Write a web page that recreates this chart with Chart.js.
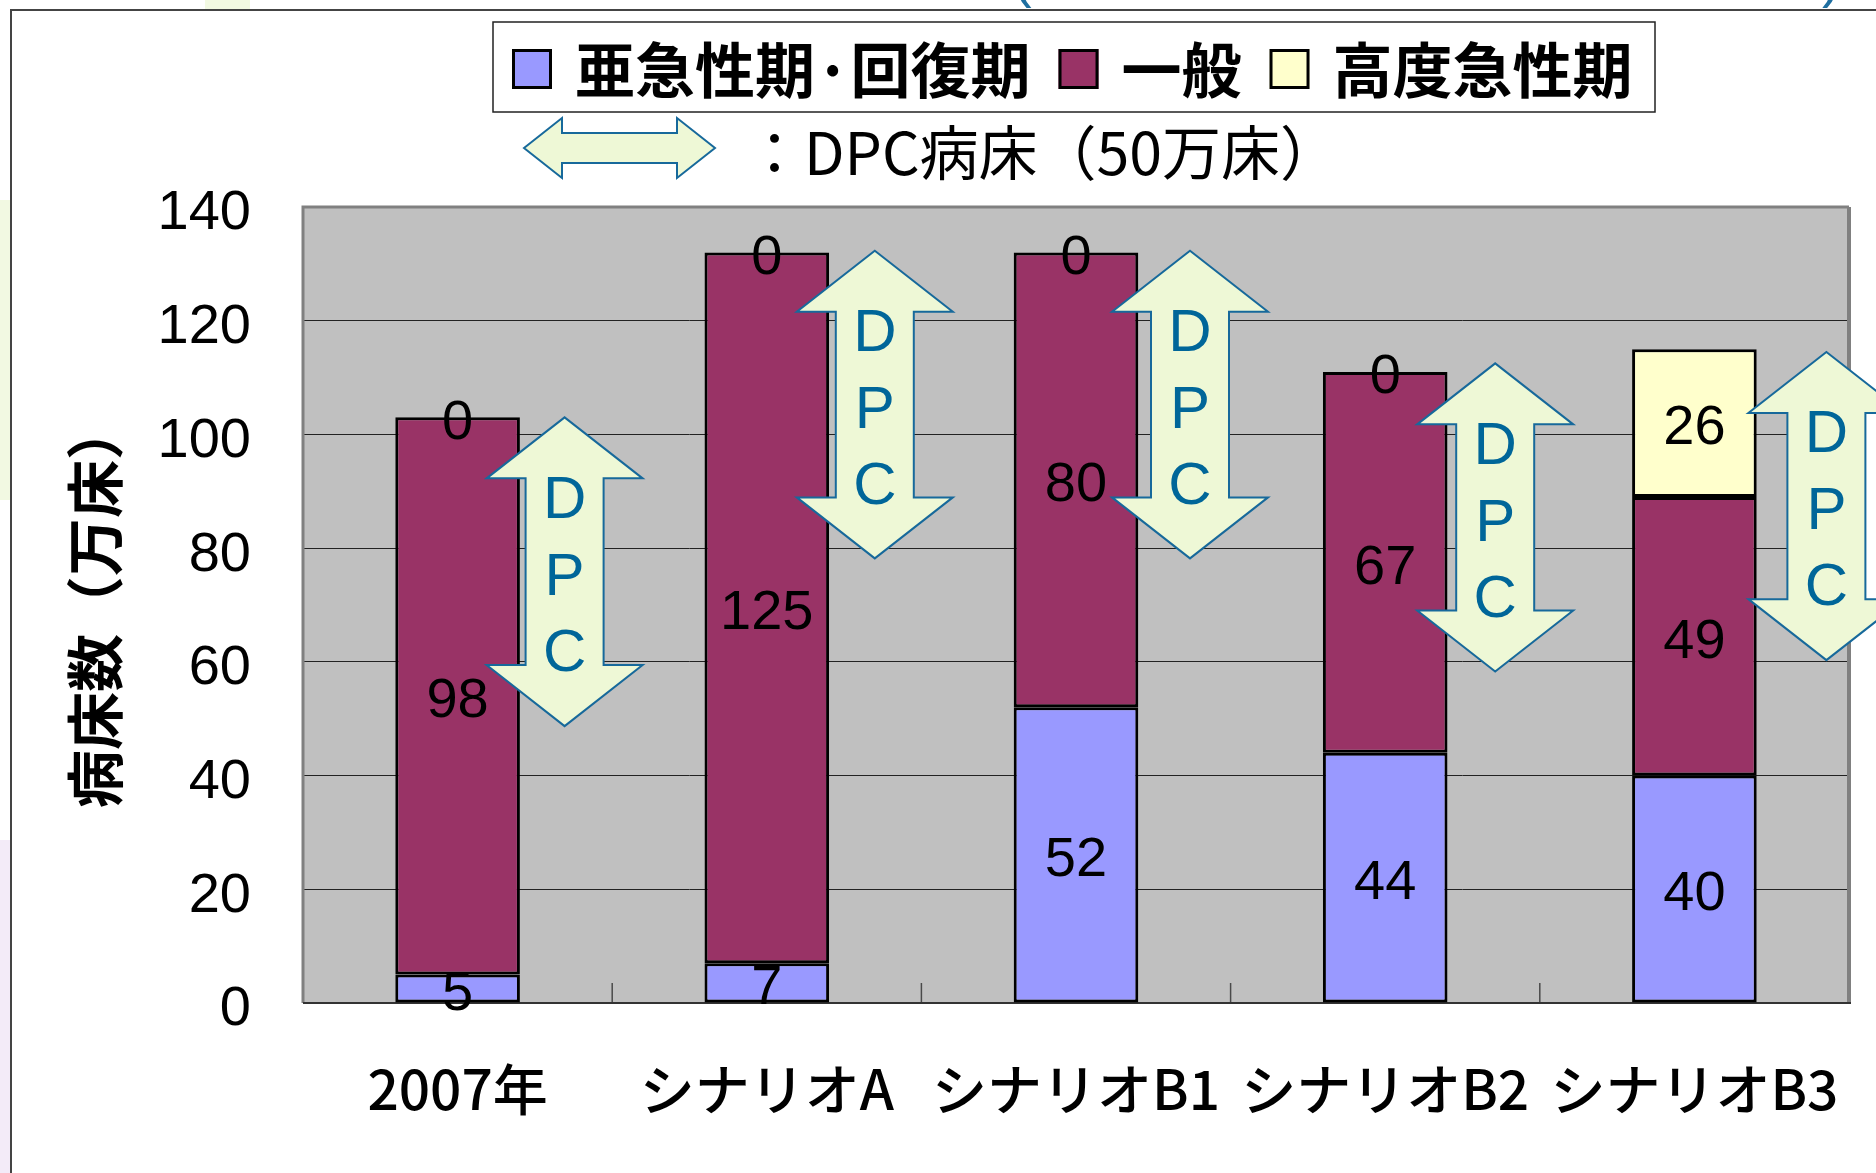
<!DOCTYPE html>
<html>
<head>
<meta charset="utf-8">
<script src="https://cdn.jsdelivr.net/npm/chart.js@4.4.1/dist/chart.umd.min.js"></script>
<style>
html, body { margin: 0; padding: 0; background: #fff; }
canvas { display: block; }
</style>
</head>
<body>
<canvas id="chart" width="1876" height="1173"></canvas>
<script>
const categories = ["2007年", "シナリオA", "シナリオB1", "シナリオB2", "シナリオB3"];
const seriesNames = ["亜急性期·回復期", "一般", "高度急性期"];
const subacute = [5, 7, 52, 44, 40];
const general = [98, 125, 80, 67, 49];
const acute = [0, 0, 0, 0, 26];
const yTicks = [0, 20, 40, 60, 80, 100, 120, 140];
// DPC arrows (top / bottom, in 万床)
const dpcTop = [103, 132.3, 132.3, 112.5, 114.5];
const dpcBottom = [48.7, 78.2, 78.2, 58.3, 60.3];
const dpcLetters = ["D", "P", "C"];
const dpcNote = "：DPC病床（50万床）";
const yTitle = "病床数（万床）";

const canvas = document.getElementById("chart");
const jp = "'Noto Sans CJK JP', 'Noto Sans'";
const latin = "'Liberation Sans', Arial, sans-serif";
const arrowFill = "#eef8d6";
const arrowLine = "#17699b";
const arrowText = "#006699";

Chart.defaults.font.family = jp;

function flecheV(ctx, x, y1, y2) {
  const hw = 78, sw = 39, hh = 61;
  ctx.beginPath();
  ctx.moveTo(x, y1);
  ctx.lineTo(x + hw, y1 + hh);
  ctx.lineTo(x + sw, y1 + hh);
  ctx.lineTo(x + sw, y2 - hh);
  ctx.lineTo(x + hw, y2 - hh);
  ctx.lineTo(x, y2);
  ctx.lineTo(x - hw, y2 - hh);
  ctx.lineTo(x - sw, y2 - hh);
  ctx.lineTo(x - sw, y1 + hh);
  ctx.lineTo(x - hw, y1 + hh);
  ctx.closePath();
  ctx.fill();
  ctx.stroke();
}

function flecheH(ctx, x1, x2, y) {
  const hh = 30, sh = 15, hl = 38;
  ctx.beginPath();
  ctx.moveTo(x1, y);
  ctx.lineTo(x1 + hl, y - hh);
  ctx.lineTo(x1 + hl, y - sh);
  ctx.lineTo(x2 - hl, y - sh);
  ctx.lineTo(x2 - hl, y - hh);
  ctx.lineTo(x2, y);
  ctx.lineTo(x2 - hl, y + hh);
  ctx.lineTo(x2 - hl, y + sh);
  ctx.lineTo(x1 + hl, y + sh);
  ctx.lineTo(x1 + hl, y + hh);
  ctx.closePath();
  ctx.fill();
  ctx.stroke();
}

const decor = {
  id: "decor",
  beforeDraw(chart) {
    const {ctx, chartArea: a} = chart;
    ctx.save();
    // faint slide background outside the frame
    ctx.fillStyle = "#f2f9e2";
    ctx.fillRect(0, 200, 10, 300);
    ctx.fillRect(205, 0, 45, 9);
    ctx.fillStyle = "#f3ebf8";
    ctx.fillRect(0, 840, 10, 333);
    ctx.fillStyle = "#c0c0c0";
    ctx.fillRect(a.left, a.top, a.right - a.left, a.bottom - a.top);
    ctx.restore();
  },
  beforeDatasetsDraw(chart) {
    const {ctx, chartArea: a, scales: {x}} = chart;
    ctx.save();
    ctx.strokeStyle = "#808080";
    ctx.lineWidth = 3;
    ctx.beginPath();
    ctx.moveTo(a.left, a.bottom);
    ctx.lineTo(a.left, a.top);
    ctx.lineTo(a.right, a.top);
    ctx.stroke();
    ctx.lineWidth = 4;
    ctx.beginPath();
    ctx.moveTo(a.right, a.top);
    ctx.lineTo(a.right, a.bottom);
    ctx.stroke();
    // tick marks between categories
    ctx.strokeStyle = "#4a4a4a";
    ctx.lineWidth = 1.5;
    for (let i = 0; i < categories.length - 1; i++) {
      const bx = (x.getPixelForValue(i) + x.getPixelForValue(i + 1)) / 2;
      ctx.beginPath();
      ctx.moveTo(bx, a.bottom);
      ctx.lineTo(bx, a.bottom - 20);
      ctx.stroke();
    }
    ctx.strokeStyle = "#333";
    ctx.lineWidth = 2;
    ctx.beginPath();
    ctx.moveTo(a.left, a.bottom);
    ctx.lineTo(a.right + 2, a.bottom);
    ctx.stroke();
    ctx.restore();
  },
  afterDatasetsDraw(chart) {
    const {ctx, scales: {x, y}} = chart;
    const offsets = [107, 108, 114, 110, 132];
    ctx.save();
    // DPC arrows
    ctx.strokeStyle = arrowLine;
    ctx.lineWidth = 2;
    dpcTop.forEach((top, i) => {
      const cx = x.getPixelForValue(i) + offsets[i];
      const y1 = y.getPixelForValue(top);
      const y2 = y.getPixelForValue(dpcBottom[i]);
      ctx.fillStyle = arrowFill;
      flecheV(ctx, cx, y1, y2);
      ctx.fillStyle = arrowText;
      ctx.font = "60px " + latin;
      ctx.textAlign = "center";
      ctx.textBaseline = "middle";
      const len = y2 - y1;
      [0.262, 0.512, 0.759].forEach((f, k) => ctx.fillText(dpcLetters[k], cx, y1 + f * len + 3));
    });
    // value labels
    ctx.fillStyle = "#000";
    ctx.font = "56px " + latin;
    ctx.textAlign = "center";
    ctx.textBaseline = "middle";
    chart.data.datasets.forEach((ds, d) => {
      chart.getDatasetMeta(d).data.forEach((bar, i) => {
        const p = bar.getProps(["x", "y", "base"], true);
        ctx.fillText(String(ds.data[i]), p.x, (p.y + p.base) / 2 + 6);
      });
    });
    ctx.restore();
  },
  afterDraw(chart) {
    const {ctx} = chart;
    ctx.save();
    // outer slide frame
    ctx.strokeStyle = "#444";
    ctx.lineWidth = 2;
    ctx.beginPath();
    ctx.moveTo(11, 1173);
    ctx.lineTo(11, 10);
    ctx.lineTo(1876, 10);
    ctx.stroke();
    // cut-off title parentheses above the frame
    ctx.fillStyle = "#1f6fa0";
    ctx.font = "56px " + latin;
    ctx.textAlign = "left";
    ctx.textBaseline = "alphabetic";
    ctx.fillText("(", 1013, -4);
    ctx.fillText(")", 1822, -4);

    // legend box
    ctx.fillStyle = "#fff";
    ctx.fillRect(493, 22, 1162, 90);
    ctx.strokeStyle = "#222";
    ctx.lineWidth = 1.5;
    ctx.strokeRect(493, 22, 1162, 90);
    ctx.font = "bold 60px " + jp;
    ctx.textBaseline = "middle";
    let lx = 512;
    chart.data.datasets.forEach(ds => {
      ctx.fillStyle = ds.backgroundColor;
      ctx.fillRect(lx, 49, 40, 40);
      ctx.strokeStyle = "#000";
      ctx.lineWidth = 3;
      ctx.strokeRect(lx + 1.5, 50.5, 37, 37);
      ctx.fillStyle = "#000";
      ctx.fillText(ds.label, lx + 63, 70);
      lx += 63 + ctx.measureText(ds.label).width + 28;
    });

    // DPC note row
    ctx.fillStyle = arrowFill;
    ctx.strokeStyle = arrowLine;
    ctx.lineWidth = 2;
    flecheH(ctx, 524, 715, 148);
    ctx.fillStyle = "#000";
    ctx.font = "59px " + jp;
    ctx.fillText(dpcNote, 745, 153);
    ctx.restore();
  }
};

const base = { borderColor: "#000", borderWidth: 3, borderSkipped: false, barPercentage: 0.403, categoryPercentage: 1 };

new Chart(canvas, {
  type: "bar",
  data: {
    labels: categories,
    datasets: [
      Object.assign({ label: seriesNames[0], data: subacute, backgroundColor: "#9999ff" }, base),
      Object.assign({ label: seriesNames[1], data: general, backgroundColor: "#993366" }, base),
      Object.assign({ label: seriesNames[2], data: acute, backgroundColor: "#ffffcc" }, base)
    ]
  },
  options: {
    responsive: false,
    animation: false,
    layout: { padding: { top: 207, right: 27, bottom: 44, left: 60 } },
    plugins: { legend: { display: false }, tooltip: { enabled: false } },
    scales: {
      x: {
        stacked: true,
        grid: { display: false, drawTicks: false },
        border: { display: false },
        afterFit(s) { s.height = 126; s.paddingLeft = 0; s.paddingRight = 0; },
        ticks: { color: "#000", padding: 53, maxRotation: 0, autoSkip: false,
          font: { family: jp, size: 55, weight: 500 } }
      },
      y: {
        stacked: true,
        min: 0,
        max: 140,
        afterBuildTicks(s) { s.ticks = yTicks.map(v => ({ value: v })); },
        afterFit(s) { s.width = 243; },
        grid: { color: "#222", lineWidth: 1, drawTicks: false },
        border: { display: false },
        ticks: { color: "#000", padding: 52, labelOffset: 7, font: { family: latin, size: 56 } },
        title: { display: true, text: yTitle, color: "#000", padding: { top: 0, bottom: 0 },
          font: { family: jp, size: 58, weight: "bold" } }
      }
    }
  },
  plugins: [decor]
});
</script>
</body>
</html>
